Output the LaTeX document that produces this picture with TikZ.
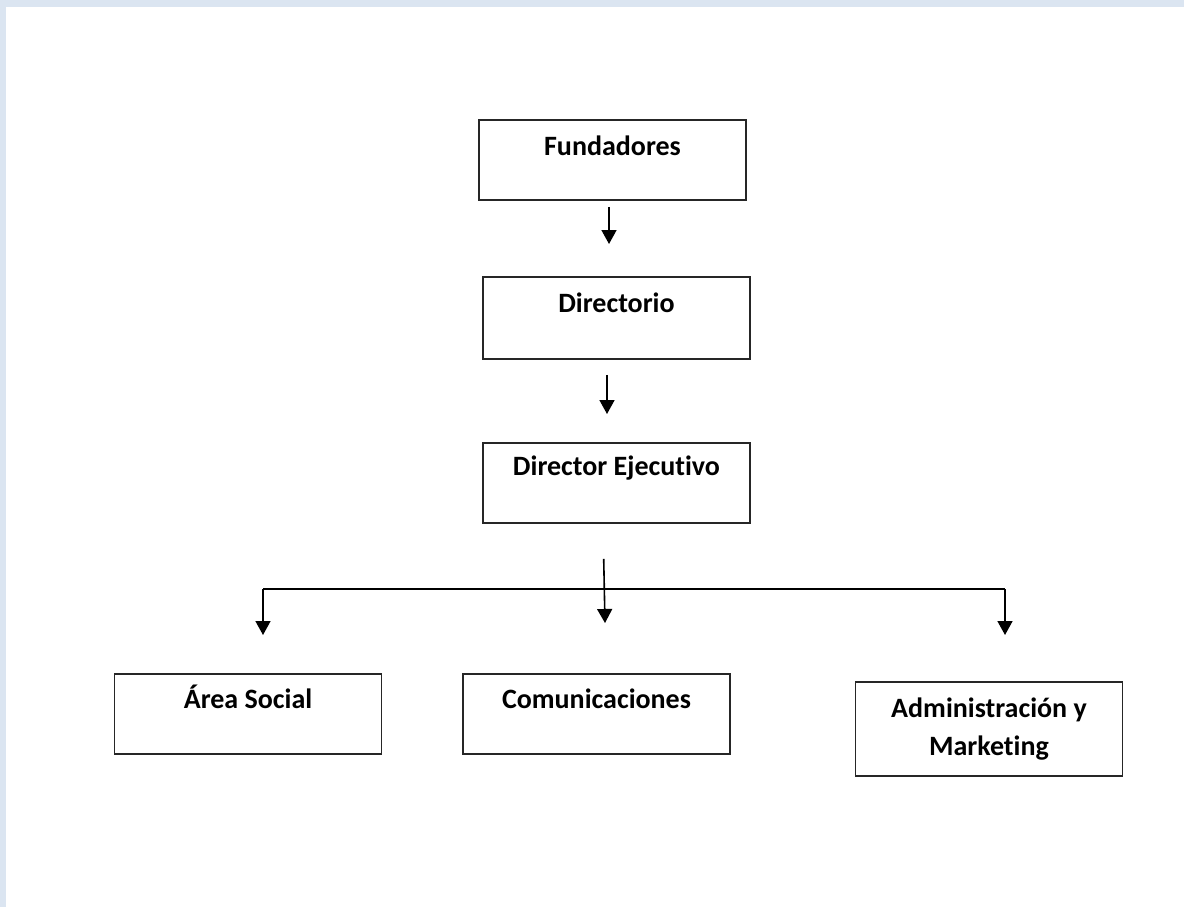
\documentclass[tikz,border=0pt]{standalone}
\usepackage{fontspec}
\setmainfont{Carlito}[Ligatures=NoCommon]
\usetikzlibrary{arrows.meta}

\definecolor{fondo}{HTML}{DBE5F1}
\tikzset{
  caja/.style={draw=black!85, line width=1.8pt, anchor=north, inner xsep=0pt,
    inner ysep=0pt, minimum width=267pt, align=center,
    font=\bfseries\fontsize{28}{38}\selectfont},
  flecha/.style={line width=1.6pt, -{Triangle[width=15pt,length=14pt]}},
  linea/.style={line width=1.6pt}
}

\begin{document}
\begin{tikzpicture}[x=1pt,y=-1pt]
  % page frame
  \fill[fondo] (0,0) rectangle (1184,907);
  \fill[white] (6,7) rectangle (1184,907);

  \node[caja, text height=36pt, text depth=44pt] (fund) at (612.5,119) {Fundadores};
  \node[caja, text height=36pt, text depth=46pt] (dir) at (616.5,276) {Directorio};
  \node[caja, text height=33pt, text depth=47pt] (ejec) at (616.5,442) {Director Ejecutivo};

  \node[caja, text height=35pt, text depth=45pt] (area) at (248,673) {Área Social};
  \node[caja, text height=35pt, text depth=45pt] (com) at (596.5,673) {Comunicaciones};
  \node[caja, text height=74pt, text depth=20pt] (admin) at (989,681) {Administración y\\ Marketing};

  \draw[flecha, shorten <=6pt, shorten >=32pt] ([xshift=-3.5pt]fund.south) -- ([xshift=-7.5pt]dir.north);
  \draw[flecha, shorten <=15pt, shorten >=28pt] ([xshift=-9.5pt]dir.south) -- ([xshift=-9.5pt]ejec.north);

  \coordinate (izq) at (263,589);
  \coordinate (der) at (1005,589);
  \draw[linea] (izq) -- (der);
  \draw[flecha, shorten <=35pt, shorten >=50pt] ([xshift=-13.5pt]ejec.south) -- ([xshift=9.5pt]com.north);
  \draw[flecha, shorten >=38pt] (izq) -- (izq |- area.north);
  \draw[flecha, shorten >=46pt] (der) -- (der |- admin.north);
\end{tikzpicture}
\end{document}
